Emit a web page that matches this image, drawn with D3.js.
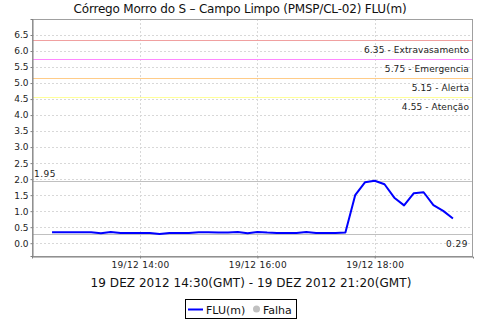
<!DOCTYPE html>
<html><head><meta charset="utf-8">
<script src="https://cdn.jsdelivr.net/npm/d3@7"></script>
<style>body{margin:0;background:#fff}svg{display:block}text{font-family:"DejaVu Sans",sans-serif}</style>
</head><body><svg id="c" width="480" height="320"></svg>
<script>
const title = "Córrego Morro do S – Campo Limpo (PMSP/CL-02) FLU(m)";
const xAxisTitle = "19 DEZ 2012 14:30(GMT) - 19 DEZ 2012 21:20(GMT)";
const startTime = "2012-12-19T12:30:00Z";
const stepMinutes = 10;
const fluValues = [0.34,0.34,0.34,0.34,0.34,0.31,0.35,0.32,0.32,0.32,0.32,0.29,0.32,0.32,0.32,
  0.34,0.34,0.33,0.33,0.35,0.31,0.35,0.33,0.32,0.32,0.32,0.35,0.32,0.32,0.32,0.33,
  1.50,1.90,1.95,1.84,1.42,1.18,1.56,1.59,1.19,1.01,0.77];
const thresholdValues = [6.35,5.75,5.15,4.55];
const thresholdNames = ["Extravasamento","Emergencia","Alerta","Atenção"];
const thresholdColors = ["#f0a0a0","#ff88ff","#ffcc88","#ffff99"];
const maxValue = 1.95, minValue = 0.29;
const yTicks = [0,0.5,1,1.5,2,2.5,3,3.5,4,4.5,5,5.5,6,6.5];
const xTicks = ["2012-12-19T14:00:00Z","2012-12-19T16:00:00Z","2012-12-19T18:00:00Z"];
const xDomain = ["2012-12-19T12:09:30Z","2012-12-19T19:40:30Z"];
const yDomain = [-0.4, 7.0];

const svg = d3.select("#c");
const L=32,R=473,T=19,B=256;
const t0 = new Date(startTime);
const data = fluValues.map((v,i)=>({t:new Date(+t0+i*stepMinutes*60000),v}));
const x = d3.scaleUtc().domain(xDomain.map(d=>new Date(d))).range([L,R]);
const y = d3.scaleLinear().domain(yDomain).range([B,T]);

svg.append("text").attr("x",240).attr("y",13).attr("text-anchor","middle")
  .attr("font-size",12).attr("fill","#111").attr("letter-spacing",-0.2).text(title);

const g = svg.append("g");
// grid
g.selectAll(".hg").data(yTicks).join("line").attr("x1",L).attr("x2",R)
  .attr("y1",d=>Math.round(y(d))+0.5).attr("y2",d=>Math.round(y(d))+0.5)
  .attr("stroke","#d8d8d8").attr("stroke-dasharray","2,2");
g.selectAll(".vg").data(xTicks).join("line")
  .attr("x1",d=>Math.round(x(new Date(d)))+0.5).attr("x2",d=>Math.round(x(new Date(d)))+0.5)
  .attr("y1",T).attr("y2",B).attr("stroke","#d8d8d8").attr("stroke-dasharray","2,2");

// thresholds
thresholdValues.forEach((v,i)=>{
  const yy=Math.round(y(v))+0.5;
  g.append("line").attr("x1",L).attr("x2",R).attr("y1",yy).attr("y2",yy)
    .attr("stroke",thresholdColors[i]).attr("stroke-width",1);
  g.append("text").attr("x",469).attr("y",yy+12).attr("text-anchor","end")
    .attr("font-size",9).attr("fill","#222").attr("letter-spacing",0.1)
    .text(v.toFixed(2)+" - "+thresholdNames[i]);
});
// max/min
[[maxValue,"max"],[minValue,"min"]].forEach(([v,k])=>{
  const yy=Math.round(y(v))+0.5;
  g.append("line").attr("x1",L).attr("x2",R).attr("y1",yy).attr("y2",yy).attr("stroke","#c0c0c0");
  if(k==="max") g.append("text").attr("x",34).attr("y",yy-5).attr("font-size",9).attr("fill","#222").attr("letter-spacing",0.5).text(v.toFixed(2));
  else g.append("text").attr("x",468).attr("y",yy+12).attr("text-anchor","end").attr("font-size",9).attr("fill","#222").attr("letter-spacing",0.5).text(v.toFixed(2));
});

// line
g.append("path").datum(data).attr("fill","none").attr("stroke","#0000ff").attr("stroke-width",2)
  .attr("stroke-linejoin","round")
  .attr("d",d3.line().x(d=>x(d.t)).y(d=>y(d.v)));

// border
svg.append("rect").attr("x",L+0.5).attr("y",T+0.5).attr("width",R-L-1).attr("height",B-T)
  .attr("fill","none").attr("stroke","#a0a0a0");

// axes
const fmt = d3.utcFormat("%d/%m %H:%M");
const ya = svg.append("g").attr("transform",`translate(${L+0.5},0)`)
  .call(d3.axisLeft(y).tickValues(yTicks).tickFormat(d3.format(".1f")).tickSize(2).tickPadding(2));
const xa = svg.append("g").attr("transform",`translate(0,${B+0.5})`)
  .call(d3.axisBottom(x).tickValues(xTicks.map(d=>new Date(d))).tickFormat(fmt).tickSize(2).tickPadding(3));
[ya,xa].forEach(a=>{
  a.select(".domain").attr("stroke","#808080");
  a.selectAll(".tick line").attr("stroke","#808080");
  a.selectAll("text").attr("font-family","DejaVu Sans").attr("font-size",9).attr("fill","#222");
});
xa.selectAll("text").attr("letter-spacing",0.3);

svg.append("text").attr("x",251).attr("y",287).attr("text-anchor","middle")
  .attr("font-size",12).attr("fill","#111").attr("letter-spacing",0.05).text(xAxisTitle);

// legend
const lg = svg.append("g");
lg.append("rect").attr("x",185.5).attr("y",299.5).attr("width",111).attr("height",19).attr("fill","#fff").attr("stroke","#000");
lg.append("line").attr("x1",188).attr("x2",203).attr("y1",309.5).attr("y2",309.5).attr("stroke","#0000ff").attr("stroke-width",2);
lg.append("text").attr("x",206).attr("y",313.5).attr("font-size",11).attr("fill","#111").text("FLU(m)");
lg.append("circle").attr("cx",256.5).attr("cy",309).attr("r",3.5).attr("fill","#c0c0c0");
lg.append("text").attr("x",263).attr("y",313.5).attr("font-size",11).attr("fill","#111").text("Falha");
</script></body></html>
